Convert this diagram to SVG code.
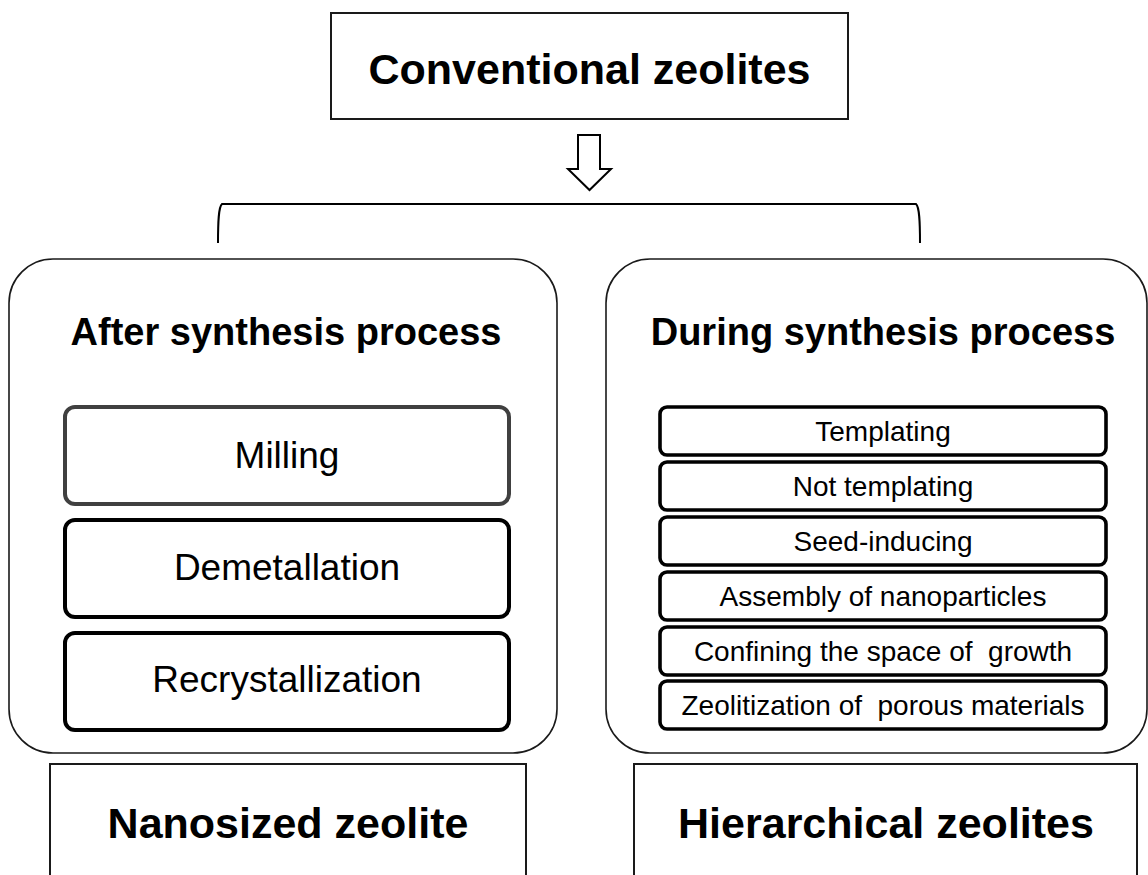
<svg xmlns="http://www.w3.org/2000/svg" width="1148" height="875" viewBox="0 0 1148 875">
  <style>
    .bg { fill: #ffffff; }
    .box { fill: #ffffff; stroke: #1a1a1a; stroke-width: 2; }
    .panel { fill: #ffffff; stroke: #1a1a1a; stroke-width: 1.6; }
    .step { fill: #ffffff; stroke: #000000; stroke-width: 4; }
    .step-soft { fill: #ffffff; stroke: #404040; stroke-width: 4; }
    .sub { fill: #ffffff; stroke: #000000; stroke-width: 3.6; }
    .conn { fill: none; stroke: #000000; stroke-width: 2; }
    .arrow { fill: #ffffff; stroke: #000000; stroke-width: 2; stroke-linejoin: miter; }
    text { font-family: "Liberation Sans", Arial, sans-serif; fill: #000000; text-anchor: middle; }
    .big { font-size: 43px; font-weight: bold; }
    .title { font-size: 38px; font-weight: bold; }
    .item { font-size: 37px; }
    .small { font-size: 28px; }
  </style>

  <rect class="bg" x="0" y="0" width="1148" height="875"/>

  <!-- connectors: hollow arrow and bracket -->
  <g id="connectors">
    <path class="arrow" d="M578,135 L600,135 L600,169 L611,169 L589.5,190 L568,169 L578,169 Z"/>
    <path class="conn" d="M218,243 C218,222 218.5,207 222,204 L916,204 C919.5,207 920,222 920,243"/>
  </g>

  <g id="conventional">
    <rect class="box" x="331" y="13" width="517" height="106"/>
    <text class="big" x="589.5" y="84">Conventional zeolites</text>
  </g>

  <g id="after-synthesis">
    <rect class="panel" x="9" y="259" width="548" height="494" rx="44" ry="44"/>
    <text class="title" x="286" y="345">After synthesis process</text>
  </g>

  <g id="milling">
    <rect class="step-soft" x="65" y="407" width="444" height="97" rx="10" ry="10"/>
    <text class="item" x="287" y="468">Milling</text>
  </g>

  <g id="demetallation">
    <rect class="step" x="65" y="520" width="444" height="97" rx="10" ry="10"/>
    <text class="item" x="287" y="580">Demetallation</text>
  </g>

  <g id="recrystallization">
    <rect class="step" x="65" y="633" width="444" height="97" rx="10" ry="10"/>
    <text class="item" x="287" y="692">Recrystallization</text>
  </g>

  <g id="during-synthesis">
    <rect class="panel" x="606" y="259" width="541" height="494" rx="44" ry="44"/>
    <text class="title" x="883" y="345">During synthesis process</text>
  </g>

  <g id="templating">
    <rect class="sub" x="660" y="407" width="446" height="48" rx="7" ry="7"/>
    <text class="small" x="883" y="441">Templating</text>
  </g>

  <g id="not-templating">
    <rect class="sub" x="660" y="462" width="446" height="48" rx="7" ry="7"/>
    <text class="small" x="883" y="496">Not templating</text>
  </g>

  <g id="seed-inducing">
    <rect class="sub" x="660" y="517" width="446" height="48" rx="7" ry="7"/>
    <text class="small" x="883" y="551">Seed-inducing</text>
  </g>

  <g id="assembly">
    <rect class="sub" x="660" y="572" width="446" height="48" rx="7" ry="7"/>
    <text class="small" x="883" y="606">Assembly of nanoparticles</text>
  </g>

  <g id="confining">
    <rect class="sub" x="660" y="627" width="446" height="48" rx="7" ry="7"/>
    <text class="small" x="883" y="661" xml:space="preserve">Confining the space of  growth</text>
  </g>

  <g id="zeolitization">
    <rect class="sub" x="660" y="681" width="446" height="48" rx="7" ry="7"/>
    <text class="small" x="883" y="715" xml:space="preserve">Zeolitization of  porous materials</text>
  </g>

  <g id="nanosized">
    <rect class="box" x="50" y="764" width="476" height="140"/>
    <text class="big" x="288" y="838">Nanosized zeolite</text>
  </g>

  <g id="hierarchical">
    <rect class="box" x="634" y="764" width="503" height="140"/>
    <text class="big" x="886" y="838">Hierarchical zeolites</text>
  </g>
</svg>
